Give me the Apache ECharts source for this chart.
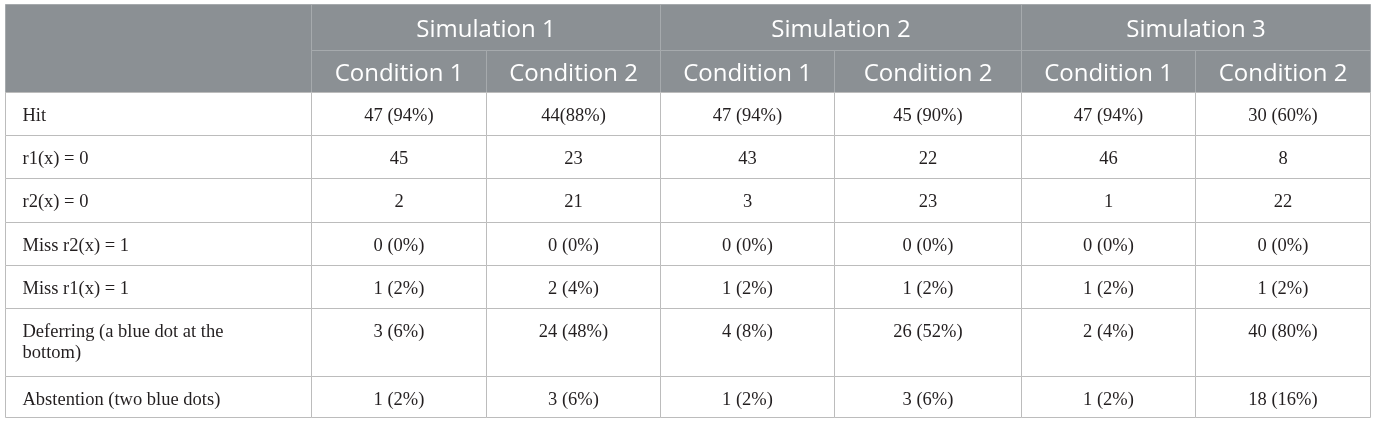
<!DOCTYPE html>
<html>
<head>
<meta charset="utf-8">
<script src="https://cdn.jsdelivr.net/npm/echarts@6/dist/echarts.min.js"></script>
<style>
html,body{margin:0;padding:0;background:#fff;}
#chart{width:1375px;height:424px;}
</style>
</head>
<body>
<div id="chart"></div>
<script>
// ---- data ----
const simulations = ['Simulation 1', 'Simulation 2', 'Simulation 3'];
const conditions = ['Condition 1', 'Condition 2'];
const rowLabels = ['Hit', 'r1(x) = 0', 'r2(x) = 0', 'Miss r2(x) = 1', 'Miss r1(x) = 1',
  'Deferring (a blue dot at the bottom)', 'Abstention (two blue dots)'];
const sim1Cond1 = ['47 (94%)', '45', '2', '0 (0%)', '1 (2%)', '3 (6%)', '1 (2%)'];
const sim1Cond2 = ['44(88%)', '23', '21', '0 (0%)', '2 (4%)', '24 (48%)', '3 (6%)'];
const sim2Cond1 = ['47 (94%)', '43', '3', '0 (0%)', '1 (2%)', '4 (8%)', '1 (2%)'];
const sim2Cond2 = ['45 (90%)', '22', '23', '0 (0%)', '1 (2%)', '26 (52%)', '3 (6%)'];
const sim3Cond1 = ['47 (94%)', '46', '1', '0 (0%)', '1 (2%)', '2 (4%)', '1 (2%)'];
const sim3Cond2 = ['30 (60%)', '8', '22', '0 (0%)', '1 (2%)', '40 (80%)', '18 (16%)'];
const valueColumns = [sim1Cond1, sim1Cond2, sim2Cond1, sim2Cond2, sim3Cond1, sim3Cond2];

// ---- layout (sizes only) ----
const colWidths = [306, 175, 174, 174, 187, 174, 175];
const rowHeights = [46, 42, 43, 43, 44, 43, 43, 68, 41];
const colEdges = [0]; colWidths.forEach(w => colEdges.push(colEdges[colEdges.length - 1] + w));
const rowEdges = [0]; rowHeights.forEach(h => rowEdges.push(rowEdges[rowEdges.length - 1] + h));
const totalW = colEdges[colEdges.length - 1];
const totalH = rowEdges[rowEdges.length - 1];

// ---- cells ----
const cells = [];
function addCell(c0, c1, r0, r1, text, kind) { cells.push({ c0, c1, r0, r1, text, kind }); }
addCell(0, 1, 0, 2, '', 'head');
simulations.forEach((s, i) => {
  addCell(1 + 2 * i, 3 + 2 * i, 0, 1, s, 'head');
  conditions.forEach((c, k) => addCell(1 + 2 * i + k, 2 + 2 * i + k, 1, 2, c, 'head'));
});
rowLabels.forEach((lab, r) => {
  addCell(0, 1, 2 + r, 3 + r, lab, 'label');
  valueColumns.forEach((col, j) => addCell(1 + j, 2 + j, 2 + r, 3 + r, col[r], 'value'));
});
const cellData = cells.map(c => [colEdges[c.c0], rowEdges[c.r0], colEdges[c.c1], rowEdges[c.r1]]);

const chart = echarts.init(document.getElementById('chart'), null, { renderer: 'canvas' });
chart.setOption({
  animation: false,
  grid: { left: 5, top: 4, width: totalW, height: totalH, containLabel: false },
  xAxis: { type: 'value', min: 0, max: totalW, show: false },
  yAxis: { type: 'value', min: 0, max: totalH, inverse: true, show: false },
  series: [{
    type: 'custom',
    coordinateSystem: 'cartesian2d',
    encode: { x: [0, 2], y: [1, 3] },
    data: cellData,
    clip: false,
    renderItem: function (params, api) {
      const c = cells[params.dataIndex];
      const p0 = api.coord([api.value(0), api.value(1)]);
      const p1 = api.coord([api.value(2), api.value(3)]);
      const x = Math.round(p0[0]) + 0.5, y = Math.round(p0[1]) + 0.5;
      const w = Math.round(p1[0]) - Math.round(p0[0]);
      const h = Math.round(p1[1]) - Math.round(p0[1]);
      const isHead = c.kind === 'head';
      const children = [{
        type: 'rect',
        shape: { x: x, y: y, width: w, height: h },
        style: { fill: isHead ? '#8b9094' : '#ffffff', stroke: isHead ? '#a6aaad' : '#bcbcbc', lineWidth: 1 }
      }];
      if (c.text) {
        if (isHead) {
          children.push({
            type: 'text',
            style: {
              x: x + w / 2, y: y + h / 2 + 2.5, text: c.text, fill: '#ffffff',
              font: '400 24px "Open Sans"', align: 'center', verticalAlign: 'middle'
            }
          });
        } else {
          const left = c.kind === 'label';
          children.push({
            type: 'text',
            style: {
              x: left ? x + 17 : x + w / 2, y: y + 13.5, text: c.text, fill: '#231f20',
              font: '18.5px "Liberation Serif"', lineHeight: 21,
              align: left ? 'left' : 'center', verticalAlign: 'top',
              width: left ? 240 : w - 10, overflow: 'break'
            }
          });
        }
      }
      return { type: 'group', children: children };
    }
  }]
});
</script>
</body>
</html>
